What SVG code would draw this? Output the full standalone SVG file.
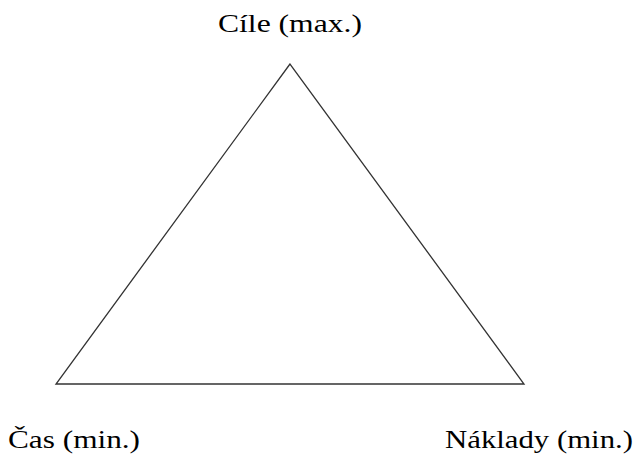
<svg xmlns="http://www.w3.org/2000/svg" width="638" height="454" viewBox="0 0 638 454">
<style>
.lbl{font-family:"Liberation Serif","Times New Roman",serif;font-size:25px;fill:#000}
.edge{fill:none;stroke:#333;stroke-width:1.3}
</style>
<rect width="638" height="454" fill="#fff"/>
<g id="connectors">
<path class="edge" d="M290,64 L56,384 L524,384 Z"/>
</g>
<g id="node-cile"><text class="lbl" x="218" y="32" textLength="144" lengthAdjust="spacingAndGlyphs">Cíle (max.)</text></g>
<g id="node-cas"><text class="lbl" x="8" y="448" textLength="132" lengthAdjust="spacingAndGlyphs">Čas (min.)</text></g>
<g id="node-naklady"><text class="lbl" x="445" y="448" textLength="188" lengthAdjust="spacingAndGlyphs">Náklady (min.)</text></g>
</svg>
